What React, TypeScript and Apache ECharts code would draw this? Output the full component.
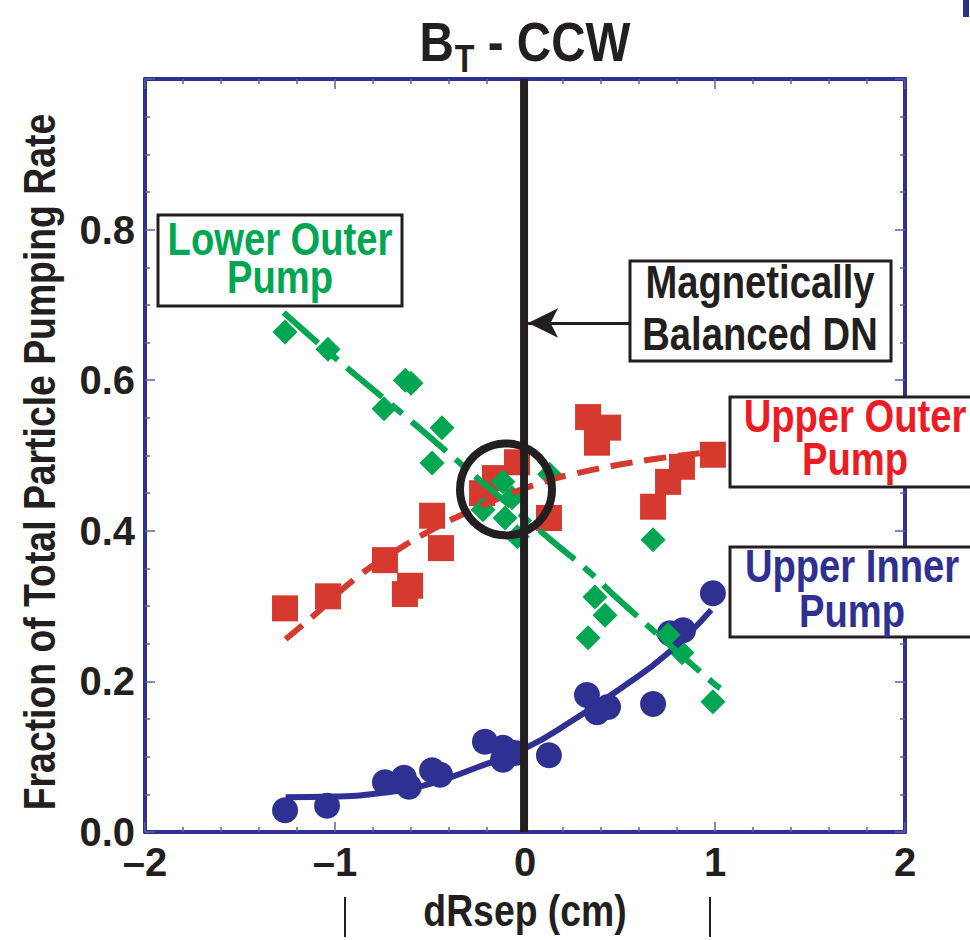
import React, { useEffect, useRef } from "react";
import * as echarts from "echarts";

// ---- data ----
const lowerOuterPump: [number, number][] = [
  [-1.263, 0.664], [-1.037, 0.641], [-0.63, 0.6], [-0.6, 0.596], [-0.742, 0.562],
  [-0.437, 0.537], [-0.489, 0.49], [-0.116, 0.465], [-0.068, 0.444], [-0.221, 0.428],
  [-0.105, 0.417], [0.13, 0.475], [-0.04, 0.392], [0.674, 0.388], [0.368, 0.312],
  [0.421, 0.288], [0.332, 0.258], [0.753, 0.262], [0.826, 0.238], [0.989, 0.173],
];
const upperOuterPump: [number, number][] = [
  [-1.263, 0.297], [-1.037, 0.313], [-0.737, 0.361], [-0.605, 0.327], [-0.632, 0.316],
  [-0.489, 0.42], [-0.442, 0.377], [-0.226, 0.45], [-0.158, 0.47], [-0.042, 0.491],
  [0.126, 0.417], [0.332, 0.551], [0.437, 0.537], [0.379, 0.517], [0.674, 0.432],
  [0.753, 0.465], [0.826, 0.485], [0.989, 0.501],
];
const upperInnerPump: [number, number][] = [
  [-1.263, 0.029], [-1.042, 0.035], [-0.737, 0.066], [-0.637, 0.072], [-0.611, 0.06],
  [-0.489, 0.082], [-0.447, 0.076], [-0.211, 0.12], [-0.116, 0.112], [-0.116, 0.096],
  [-0.053, 0.105], [0.126, 0.102], [0.326, 0.182], [0.379, 0.159], [0.437, 0.166],
  [0.674, 0.17], [0.763, 0.264], [0.832, 0.268], [0.989, 0.317],
];
const lowerOuterFit: [number, number][] = [
  [-1.27, 0.69], [-1.0, 0.63], [-0.62, 0.55], [-0.38, 0.498], [-0.27, 0.474],
  [0.15, 0.385], [0.34, 0.345], [0.5, 0.307], [0.99, 0.198], [1.04, 0.189],
];
const upperOuterFit: [number, number][] = [
  [-1.26, 0.256], [-1.1, 0.29], [-0.9, 0.335], [-0.7, 0.37], [-0.5, 0.4], [-0.3, 0.425],
  [-0.1, 0.447], [0.1, 0.465], [0.3, 0.478], [0.5, 0.488], [0.7, 0.496], [0.92, 0.503],
];
const upperInnerFit: [number, number][] = [
  [-1.26, 0.046], [-1.0, 0.047], [-0.75, 0.052], [-0.5, 0.064], [-0.25, 0.086],
  [0.0, 0.111], [0.25, 0.148], [0.5, 0.19], [0.75, 0.237], [0.98, 0.295],
];
const balancedX = -0.005;
const circleMark: [number, number] = [-0.1, 0.455];
const arrowY = 0.676;
const arrowFromX = 0.553;
const arrowToX = 0.016;
const xTicks = { min: -2, max: 2, interval: 1 };
const yTicks = { min: 0, max: 1, interval: 0.2 };
const xTitle = "dRsep (cm)";
const yTitle = "Fraction of Total Particle Pumping Rate";

const FONT = "'Liberation Sans', Arial, Helvetica, sans-serif";
const INK = "#231f20";
const FRAME = "#2e3192";
const TICK = "#5b5fa8";
const GREEN = "#00a651";
const RED_MARK = "#d6392e";
const RED_TEXT = "#ed1c24";
const BLUE = "#2e3192";
const CONDENSE = 0.83;

function box(x: number, y: number, w: number, h: number, text: string, color: string, cx: number, cy: number, lh: number) {
  return [
    { type: "rect", z: 100, shape: { x, y, width: w, height: h }, style: { fill: "#fff", stroke: INK, lineWidth: 3 } },
    {
      type: "text", z: 101, x: cx, y: cy, scaleX: CONDENSE,
      style: { text, fill: color, fontSize: 46, lineHeight: lh, fontWeight: "bold", fontFamily: FONT, align: "center", verticalAlign: "middle" },
    },
  ];
}

export default function App() {
  const ref = useRef<HTMLDivElement>(null);
  useEffect(() => {
    if (!ref.current) return;
    const chart = echarts.init(ref.current, null, { renderer: "svg" });
    const axisCommon = {
      type: "value",
      axisLine: { show: true, onZero: false, lineStyle: { color: FRAME, width: 4 } },
      axisTick: { show: true, inside: true, length: 10, lineStyle: { color: TICK, width: 1.5 } },
      minorTick: { show: true, length: 5, lineStyle: { color: TICK, width: 1.5 } },
      splitLine: { show: false },
    };
    const labelStyle = { color: INK, fontSize: 40, fontWeight: "bold", fontFamily: FONT };
    chart.setOption({
      animation: false,
      backgroundColor: "#fff",
      grid: { left: 145, right: 65, top: 79, bottom: 108 },
      xAxis: [
        {
          ...axisCommon, position: "bottom", ...xTicks,
          minorTick: { ...axisCommon.minorTick, splitNumber: 5 },
          axisLabel: { ...labelStyle, margin: 10, formatter: (v: number) => (v < 0 ? "\u2013" + Math.abs(v) : String(v)) },
        },
        {
          ...axisCommon, position: "top", ...xTicks,
          minorTick: { ...axisCommon.minorTick, splitNumber: 5 },
          axisLabel: { show: false },
        },
      ],
      yAxis: [
        {
          ...axisCommon, position: "left", ...yTicks,
          minorTick: { ...axisCommon.minorTick, splitNumber: 4 },
          axisLabel: { ...labelStyle, margin: 10, formatter: (v: number) => (v >= 0.999 ? "" : v.toFixed(1)) },
        },
        {
          ...axisCommon, position: "right", ...yTicks,
          minorTick: { ...axisCommon.minorTick, splitNumber: 4 },
          axisLabel: { show: false },
        },
      ],
      series: [
        { name: "Upper Outer fit", type: "line", data: upperOuterFit, smooth: true, symbol: "none",
          lineStyle: { color: RED_MARK, width: 6, type: [22, 12] } },
        { name: "Upper Outer Pump", type: "scatter", data: upperOuterPump, symbol: "rect", symbolSize: 26,
          itemStyle: { color: RED_MARK, opacity: 1 } },
        { name: "Upper Inner fit", type: "line", data: upperInnerFit, smooth: true, symbol: "none",
          lineStyle: { color: BLUE, width: 6 } },
        { name: "Upper Inner Pump", type: "scatter", data: upperInnerPump, symbol: "circle", symbolSize: 26,
          itemStyle: { color: BLUE, opacity: 1 } },
        { name: "Lower Outer fit", type: "line", data: lowerOuterFit, smooth: true, symbol: "none",
          lineStyle: { color: GREEN, width: 6, type: [46, 12, 14, 12] } },
        { name: "Lower Outer Pump", type: "scatter", data: lowerOuterPump, symbol: "diamond", symbolSize: 25,
          itemStyle: { color: GREEN, opacity: 1 } },
        { name: "Magnetically Balanced DN", type: "line", data: [[balancedX, yTicks.min], [balancedX, yTicks.max]],
          symbol: "none", lineStyle: { color: INK, width: 8 }, z: 5,
          markLine: {
            silent: true, symbol: ["none", "arrow"], symbolSize: [22, 30],
            label: { show: false },
            lineStyle: { color: INK, width: 3, type: "solid" },
            data: [[{ coord: [arrowFromX, arrowY] }, { coord: [arrowToX, arrowY] }]],
          } },
        { name: "circle", type: "scatter", data: [circleMark], symbol: "circle", symbolSize: 92, z: 6,
          itemStyle: { color: "rgba(0,0,0,0)", borderColor: INK, borderWidth: 8, opacity: 1 } },
      ],
      graphic: [
        {
          type: "text", z: 101, x: 525, y: 14, scaleX: 0.85,
          style: {
            text: "{b|B}{s|T}{b| - CCW}", align: "center", verticalAlign: "top",
            rich: {
              b: { fontSize: 56, lineHeight: 56, fontWeight: "bold", fontFamily: FONT, fill: INK, verticalAlign: "top" },
              s: { fontSize: 38, lineHeight: 38, fontWeight: "bold", fontFamily: FONT, fill: INK, verticalAlign: "top", padding: [26, 0, 0, 1] },
            },
          },
        },
        {
          type: "text", z: 101, x: 525, y: 911, scaleX: CONDENSE,
          style: { text: xTitle, fill: INK, fontSize: 45, fontWeight: "bold", fontFamily: FONT, align: "center", verticalAlign: "middle" },
        },
        {
          type: "text", z: 101, x: 40, y: 462, rotation: Math.PI / 2, scaleX: CONDENSE,
          style: { text: yTitle, fill: INK, fontSize: 45, fontWeight: "bold", fontFamily: FONT, align: "center", verticalAlign: "middle" },
        },
        ...box(158, 215, 244, 91, "Lower Outer\nPump", GREEN, 280, 258, 38),
        ...box(630, 261, 261, 100, "Magnetically\nBalanced DN", INK, 760, 308, 52),
        ...box(730, 397, 250, 90, "Upper Outer\nPump", RED_TEXT, 855, 437.5, 43),
        ...box(730, 547, 250, 90, "Upper Inner\nPump", BLUE, 852, 588.5, 45),
        { type: "line", z: 50, shape: { x1: 345, y1: 897, x2: 345, y2: 937 }, style: { stroke: INK, lineWidth: 2 } },
        { type: "line", z: 50, shape: { x1: 710, y1: 897, x2: 710, y2: 937 }, style: { stroke: INK, lineWidth: 2 } },
        { type: "rect", z: 50, shape: { x: 963, y: 0, width: 6, height: 17 }, style: { fill: FRAME } },
      ],
    });
    return () => chart.dispose();
  }, []);
  return <div ref={ref} style={{ position: "fixed", left: 0, top: 0, width: 970, height: 940 }} />;
}
